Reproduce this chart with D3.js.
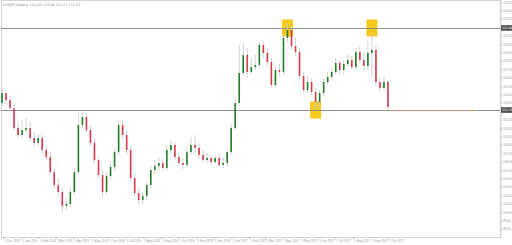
<!DOCTYPE html>
<html>
<head>
<meta charset="utf-8">
<script src="https://cdn.jsdelivr.net/npm/d3@7"></script>
<style>
  body { margin: 0; background: #fff; }
  svg { display: block; font-family: "DejaVu Sans", sans-serif; }
</style>
</head>
<body>
<svg id="chart" width="512" height="245"></svg>
<script>
// weekly candles
const openP = [112.99,114.18,113.35,112.39,110.01,109.18,109.77,110.01,108.82,108.23,108.82,107.39,106.56,104.77,103.23,102.39,100.73,100.96,102.39,104.77,
  110.37,111.32,109.77,108.23,106.20,104.42,102.39,104.30,105.37,107.15,110.37,109.18,107.39,104.06,102.27,101.44,101.92,103.23,105.01,105.49,
  105.85,105.25,107.39,107.99,106.56,105.85,105.61,107.15,107.99,107.63,106.80,106.20,106.44,105.96,106.44,105.61,105.85,107.15,110.01,112.99,
  116.56,118.70,116.68,117.27,117.51,119.89,118.94,117.87,115.13,116.92,116.68,120.73,121.68,119.77,119.06,116.20,114.54,115.49,114.30,113.11,
  114.18,115.49,116.08,116.68,117.75,116.92,117.63,118.11,117.27,119.06,118.11,117.39,118.94,119.30,115.49,114.77,115.49];
const closeP = [114.18,113.35,112.39,110.01,109.18,109.77,110.01,108.82,108.23,108.82,107.39,106.56,104.77,103.23,102.39,100.73,100.96,102.39,104.77,110.37,
  111.32,109.77,108.23,106.20,104.42,102.39,104.30,105.37,107.15,110.37,109.18,107.39,104.06,102.27,101.44,101.92,103.23,105.01,105.49,105.85,
  105.25,107.39,107.99,106.56,105.85,105.61,107.15,107.99,107.63,106.80,106.20,106.44,105.96,106.44,105.61,105.85,107.15,110.01,112.99,116.56,
  118.70,116.68,117.27,117.51,119.89,118.94,117.87,115.13,116.92,116.68,120.73,121.68,119.77,119.06,116.20,114.54,115.49,114.30,113.11,114.18,
  115.49,116.08,116.68,117.75,116.92,117.63,118.11,117.27,119.06,118.11,117.39,118.94,119.30,115.49,114.77,115.49,112.51];
const highP = [114.77,114.54,113.82,112.87,110.73,110.96,111.20,110.73,109.54,109.30,109.18,107.87,107.15,105.25,104.06,102.87,101.68,102.87,105.25,111.68,
  111.92,111.80,110.25,108.82,106.56,105.01,104.77,105.96,107.63,110.96,110.96,109.77,107.87,104.54,102.87,102.39,103.58,105.49,106.20,106.56,
  106.44,107.87,108.58,108.35,107.15,106.44,107.63,108.94,109.18,108.23,107.39,107.04,106.80,106.80,106.92,106.44,107.39,110.49,113.58,119.89,
  120.13,119.54,118.35,118.70,120.25,120.25,119.54,118.35,117.39,117.63,121.20,122.51,122.04,120.73,119.54,116.68,116.20,115.96,114.77,114.54,
  115.96,116.68,117.15,118.35,118.11,118.11,118.70,118.58,119.54,119.77,119.06,120.49,121.32,119.77,115.96,116.08,115.73];
const lowP = [112.63,112.87,111.92,109.77,108.82,108.94,109.30,108.35,107.75,107.87,106.92,106.20,104.42,102.87,101.92,100.01,100.25,100.61,102.04,104.42,
  110.01,109.42,107.87,105.85,104.06,101.80,102.04,103.82,105.01,106.80,108.58,106.80,103.70,101.92,100.85,100.96,101.44,102.87,104.54,105.01,
  104.89,104.89,107.04,106.20,105.49,105.13,105.25,106.80,107.15,106.44,105.85,105.85,105.61,105.73,105.25,105.25,105.49,106.80,109.77,112.63,
  116.20,115.96,116.44,116.92,117.15,118.35,117.39,114.77,114.77,116.20,116.32,120.25,119.30,118.58,115.73,114.18,114.18,113.94,112.15,112.39,
  113.82,115.13,115.73,116.32,116.44,116.44,117.27,116.92,116.92,117.75,116.92,116.92,116.08,115.13,114.30,114.54,112.27];

const firstWeek = "29 Nov 2015";
const dateLabels = ["1 Dec 2015","1 Jan 2016","1 Feb 2016","1 Mar 2016","1 Apr 2016","1 May 2016","1 Jun 2016","1 Jul 2016",
  "1 Aug 2016","1 Sep 2016","1 Oct 2016","1 Nov 2016","1 Dec 2016","1 Jan 2017","1 Feb 2017","1 Mar 2017","1 Apr 2017",
  "1 May 2017","1 Jun 2017","1 Jul 2017","1 Aug 2017","1 Sep 2017","1 Oct 2017"];
// 112 and 122 sit under the level tags, so they are left out
const priceTicks = [98,99,100,101,102,103,104,105,106,107,108,109,110,111,113,114,115,116,117,118,119,120,121,123,124,125];
const levels = [121.92, 112.15];
const marked = [{ idx: 71, level: 121.92 }, { idx: 78, level: 112.15 }, { idx: 92, level: 121.92 }];
const titleText = "USDJPY,Weekly  112.84 113.04 112.27 112.51";

const PLOT = { left: 1, top: 0, right: 500, bottom: 237 };

const parse = d3.timeParse("%-d %b %Y");
const fmtDate = d3.timeFormat("%-d %b %Y");
const start = parse(firstWeek);
const weeks = d3.range(openP.length).map(i => d3.timeWeek.offset(start, i));

const x = d3.scaleTime()
    .domain([weeks[0], weeks[weeks.length - 1]])
    .range([2, 388]);
const y = d3.scaleLinear()
    .domain([125.25, 97.155])
    .range([0, 236]);

const svg = d3.select('#chart');

// frame
svg.append('rect')
    .attr('x', PLOT.left + 0.5).attr('y', PLOT.top + 0.5)
    .attr('width', PLOT.right - PLOT.left).attr('height', PLOT.bottom - PLOT.top)
    .attr('fill', 'none').attr('stroke', '#d4d4d4');

// yellow markers at swing points
svg.append('g').selectAll('rect')
    .data(marked)
    .join('rect')
    .attr('x', d => x(weeks[d.idx]) - 5.5)
    .attr('y', d => y(d.level) - 8.5)
    .attr('width', 11)
    .attr('height', 17)
    .attr('fill', '#f8c81c');

// level lines
svg.append('g').selectAll('line')
    .data(levels)
    .join('line')
    .attr('x1', PLOT.left).attr('x2', PLOT.right)
    .attr('y1', d => Math.round(y(d)) + 0.5).attr('y2', d => Math.round(y(d)) + 0.5)
    .attr('stroke', '#8c8c8c').attr('stroke-width', 1);

// current price line after the last bar
const last = closeP.length - 1;
svg.append('line')
    .attr('x1', x(weeks[last]) + 2).attr('x2', 476)
    .attr('y1', Math.round(y(levels[1])) + 0.5).attr('y2', Math.round(y(levels[1])) + 0.5)
    .attr('stroke', '#c98f72').attr('stroke-width', 1);

const candles = d3.range(openP.length).map(i => ({
    date: weeks[i], o: openP[i], h: highP[i], l: lowP[i], c: closeP[i]
}));

const g = svg.append('g');
g.selectAll('line.wick')
    .data(candles)
    .join('line')
    .attr('class', 'wick')
    .attr('x1', d => x(d.date)).attr('x2', d => x(d.date))
    .attr('y1', d => y(d.h)).attr('y2', d => y(d.l))
    .attr('stroke', '#cccccc').attr('stroke-width', 0.9);

g.selectAll('rect.body')
    .data(candles)
    .join('rect')
    .attr('class', 'body')
    .attr('x', d => x(d.date) - 0.8)
    .attr('width', 1.6)
    .attr('y', d => y(Math.max(d.o, d.c)))
    .attr('height', d => Math.max(1, Math.abs(y(d.o) - y(d.c))))
    .attr('fill', d => d.c >= d.o ? '#1f7f27' : '#d43a4a');

// right price axis
const yAxis = svg.append('g')
    .attr('transform', `translate(${PLOT.right + 0.5},0)`)
    .call(d3.axisRight(y).tickValues(priceTicks).tickSize(1.5).tickFormat(d3.format('.2f')));
yAxis.select('.domain').attr('stroke', '#d4d4d4');
yAxis.selectAll('.tick line').attr('stroke', '#bbb');
yAxis.selectAll('.tick text')
    .attr('x', 2.5).attr('fill', '#9a9a9a').attr('font-size', '3.1px');

// level tags on the axis
const tags = svg.append('g').selectAll('g')
    .data(levels)
    .join('g')
    .attr('transform', d => `translate(${PLOT.right + 1},${y(d)})`);
tags.append('rect')
    .attr('x', 0).attr('y', -2.8).attr('width', 11).attr('height', 5.6)
    .attr('fill', '#505050');
tags.append('text')
    .attr('x', 1).attr('y', 1.1)
    .attr('fill', '#fff').attr('font-size', '3.1px')
    .text(d => d3.format('.2f')(d));

// date axis
const xAxis = svg.append('g')
    .attr('transform', `translate(0,${PLOT.bottom + 0.5})`)
    .call(d3.axisBottom(x).tickValues(dateLabels.map(parse)).tickSize(1.5).tickFormat(fmtDate));
xAxis.select('.domain').remove();
xAxis.selectAll('.tick line').attr('stroke', '#bbb');
xAxis.selectAll('.tick text')
    .attr('y', 2.5).attr('text-anchor', 'start').attr('dx', 0.8)
    .attr('fill', '#9a9a9a').attr('font-size', '3.1px');

// title
svg.append('text')
    .attr('x', 3).attr('y', 6)
    .attr('fill', '#8a8a8a').attr('font-size', '3.4px')
    .text(titleText);
</script>
</body>
</html>
